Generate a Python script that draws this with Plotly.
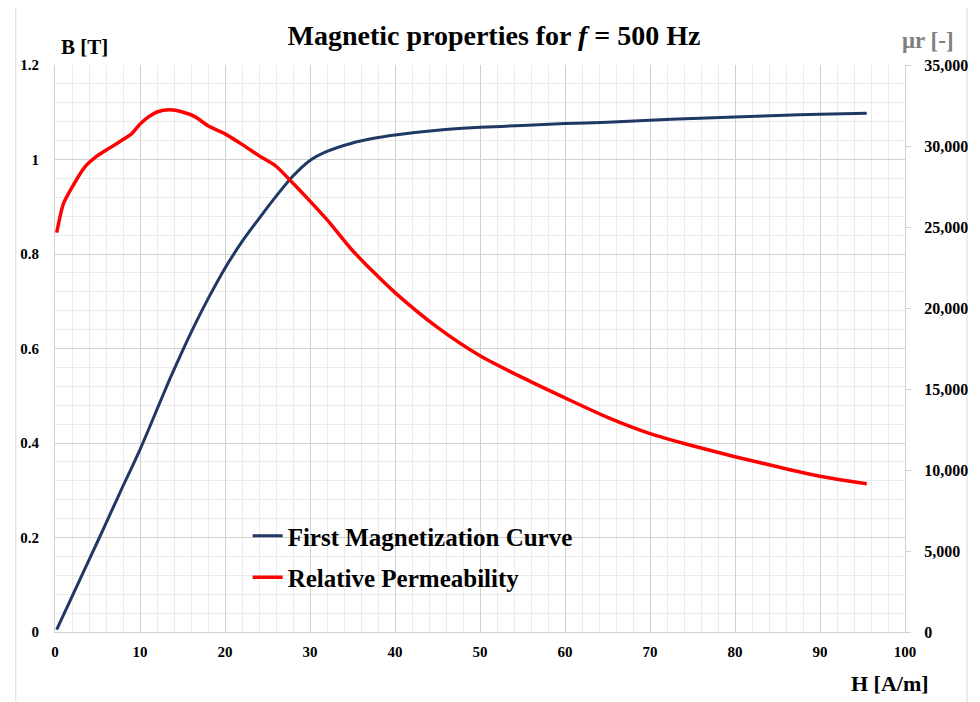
import plotly.graph_objects as go

# Field strength H [A/m]
H = [0.2, 1, 2, 3.5, 5, 6.5, 8, 9, 10, 11, 12, 13.5, 15, 16.5, 18, 20, 22, 24, 26, 28,
     30, 32, 35, 37.5, 40, 45, 50, 55, 60, 65, 70, 75, 80, 85, 90, 95.5]
# First magnetization curve B [T]
B = [0.005, 0.036, 0.075, 0.133, 0.191, 0.25, 0.309, 0.347, 0.386, 0.428, 0.471, 0.535,
     0.595, 0.652, 0.705, 0.77, 0.826, 0.875, 0.922, 0.965, 0.998, 1.017, 1.035, 1.045,
     1.052, 1.062, 1.068, 1.072, 1.076, 1.079, 1.083, 1.087, 1.09, 1.093, 1.096, 1.098]
# Relative permeability mu_r [-]
MU = [24650, 26450, 27450, 28700, 29400, 29900, 30400, 30750, 31350, 31800, 32100,
      32230, 32100, 31800, 31250, 30750, 30100, 29400, 28750, 27700, 26600, 25450,
      23550, 22200, 20950, 18800, 17050, 15700, 14450, 13250, 12250, 11500, 10820,
      10200, 9620, 9150]

SERIES_NAMES = ["First Magnetization Curve", "Relative Permeability"]
X_TICKS = list(range(0, 101, 10))
Y_TICKS = [0, 0.2, 0.4, 0.6, 0.8, 1, 1.2]
Y2_TICKS = list(range(0, 35001, 5000))

FONT = "Liberation Serif, Times New Roman, serif"
BLUE = "#1F3864"
RED = "#FF0000"
MAJ = "#D0D0D0"
MIN = "#EBEBEB"

fig = go.Figure()
fig.add_trace(go.Scatter(x=H, y=B, name=SERIES_NAMES[0], mode="lines",
                         line=dict(color=BLUE, width=3, shape="spline", smoothing=0.7),
                         legendgroup="a", yaxis="y"))
fig.add_trace(go.Scatter(x=H, y=MU, name=SERIES_NAMES[1], mode="lines",
                         line=dict(color=RED, width=3.5, shape="spline", smoothing=0.7),
                         legendgroup="b", yaxis="y2"))

OFF = 8  # page body margin
W, Ht = 980 - OFF, 702 - OFF
L, R, T, Bm = 52 - OFF, 72, 65 - OFF, 70
pw, ph = W - L - R, Ht - T - Bm


def px(xref):
    return (xref - OFF - L) / pw


def py(yref):
    return (Ht - Bm - (yref - OFF)) / ph


tickfont = dict(family=FONT, size=15, color="#000000", weight="bold")

fig.update_layout(
    width=W, height=Ht,
    margin=dict(l=L, r=R, t=T, b=Bm),
    paper_bgcolor="white", plot_bgcolor="white",
    title=dict(text="Magnetic properties for <i>f</i> = 500 Hz", x=0.5, xanchor="center",
               y=1 - (35 - OFF) / Ht, yanchor="middle",
               font=dict(family=FONT, size=28, color="#000000", weight="bold")),
    xaxis=dict(range=[0, 100], tickvals=X_TICKS, showgrid=True, gridcolor=MAJ, gridwidth=1,
               minor=dict(dtick=2, showgrid=True, gridcolor=MIN, gridwidth=1),
               showline=True, linecolor=MAJ, zeroline=False, ticks="",
               tickfont=tickfont, ticklabelstandoff=6),
    yaxis=dict(range=[0, 1.2], tickvals=Y_TICKS, showgrid=True, gridcolor=MAJ, gridwidth=1,
               minor=dict(dtick=0.04, showgrid=True, gridcolor=MIN, gridwidth=1),
               showline=True, linecolor=MAJ, zeroline=False, ticks="",
               tickfont=tickfont, ticklabelstandoff=12),
    yaxis2=dict(range=[0, 35000], tickvals=Y2_TICKS, tickformat=",", overlaying="y",
                side="right", showgrid=False, zeroline=False, showline=True, linecolor=MAJ,
                ticks="outside", ticklen=5, tickcolor=MAJ,
                tickfont=dict(family=FONT, size=16, color="#000000", weight="bold"),
                ticklabelstandoff=10),
    legend=dict(x=px(246), y=py(513), xanchor="left", yanchor="top",
                bgcolor="rgba(0,0,0,0)", traceorder="grouped", tracegroupgap=6,
                font=dict(family=FONT, size=25, color="#000000", weight="bold")),
    showlegend=True,
)

# white legend panel covering the gridlines
fig.add_shape(type="rect", xref="paper", yref="paper", x0=px(206), x1=px(617),
              y0=py(597), y1=py(520), fillcolor="white", line=dict(width=0), layer="between")
# chart outer border
fig.add_shape(type="rect", xref="paper", yref="paper", x0=px(12.5), x1=px(970.5),
              y0=py(710), y1=py(7.5), fillcolor="rgba(0,0,0,0)",
              line=dict(color="#D9D9D9", width=1), layer="below")

fig.add_annotation(text="B [T]", xref="paper", yref="paper", x=px(56), y=py(47),
                   xanchor="left", yanchor="middle", showarrow=False,
                   font=dict(family=FONT, size=21, color="#000000", weight="bold"))
fig.add_annotation(text="μr [-]", xref="paper", yref="paper", x=px(959), y=py(40),
                   xanchor="right", yanchor="middle", showarrow=False,
                   font=dict(family=FONT, size=23, color="#7F7F7F", weight="bold"))
fig.add_annotation(text="H [A/m]", xref="paper", yref="paper", x=px(934), y=py(683),
                   xanchor="right", yanchor="middle", showarrow=False,
                   font=dict(family=FONT, size=22, color="#000000", weight="bold"))

fig.write_html("out.html")
